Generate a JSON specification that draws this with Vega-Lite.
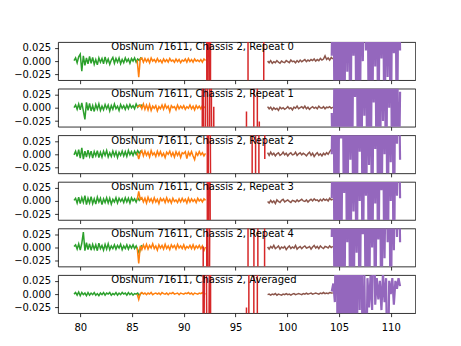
{
"$schema":"https://vega.github.io/schema/vega-lite/v6.json",
"autosize":{"type":"pad"},
"padding":{"left":13.1,"top":41.1,"right":0,"bottom":0},
"background":"white",
"bounds":"flush",
"spacing":7.6,
"config":{"font":"DejaVu Sans","view":{"stroke":"#000","strokeWidth":0.8},"line":{"strokeWidth":1.5},
"axis":{"labelFont":"DejaVu Sans","labelFontSize":10,"labelColor":"#000","tickColor":"#000","tickSize":3.5,"tickWidth":0.8,"domain":false,"grid":false,"labelPadding":4,"title":null,"labelOverlap":false},
"axisX":{"labelPadding":6}},
"datasets":{
"g0":[{"x":79.4,"y":0.001},{"x":79.55,"y":0.006},{"x":79.7,"y":-0.003},{"x":79.85,"y":0.008},{"x":80,"y":0.013},{"x":80.15,"y":-0.019},{"x":80.3,"y":0.01},{"x":80.45,"y":-0.008},{"x":80.6,"y":0.006},{"x":80.75,"y":-0.005},{"x":80.9,"y":0.009},{"x":81.05,"y":-0.004},{"x":81.2,"y":0.007},{"x":81.35,"y":-0.006},{"x":81.5,"y":0.003},{"x":81.65,"y":-0.007},{"x":81.8,"y":0.006},{"x":81.95,"y":-0.002},{"x":82.1,"y":0.005},{"x":82.25,"y":-0.005},{"x":82.4,"y":0.008},{"x":82.55,"y":-0.003},{"x":82.7,"y":0.004},{"x":82.85,"y":-0.006},{"x":83,"y":0.002},{"x":83.15,"y":0.007},{"x":83.3,"y":-0.004},{"x":83.45,"y":0.005},{"x":83.6,"y":-0.002},{"x":83.75,"y":0.006},{"x":83.9,"y":-0.005},{"x":84.05,"y":0.003},{"x":84.2,"y":-0.003},{"x":84.35,"y":0.006},{"x":84.5,"y":-0.001},{"x":84.65,"y":0.004},{"x":84.8,"y":-0.004},{"x":84.95,"y":0.005},{"x":85.1,"y":0},{"x":85.25,"y":0.006},{"x":85.4,"y":-0.002},{"x":85.55,"y":0.004},{"x":85.7,"y":0.001},{"x":85.85,"y":0.006},{"x":86,"y":0.003}],
"g1":[{"x":79.4,"y":0},{"x":79.55,"y":0.005},{"x":79.7,"y":-0.003},{"x":79.85,"y":0.007},{"x":80,"y":-0.004},{"x":80.15,"y":0.009},{"x":80.3,"y":-0.006},{"x":80.45,"y":-0.022},{"x":80.6,"y":0.01},{"x":80.75,"y":-0.005},{"x":80.9,"y":0.008},{"x":81.05,"y":-0.006},{"x":81.2,"y":0.004},{"x":81.35,"y":-0.007},{"x":81.5,"y":0.006},{"x":81.65,"y":-0.003},{"x":81.8,"y":0.007},{"x":81.95,"y":-0.005},{"x":82.1,"y":0.003},{"x":82.25,"y":-0.004},{"x":82.4,"y":0.006},{"x":82.55,"y":-0.002},{"x":82.7,"y":0.005},{"x":82.85,"y":-0.006},{"x":83,"y":0.004},{"x":83.15,"y":-0.003},{"x":83.3,"y":0.007},{"x":83.45,"y":-0.002},{"x":83.6,"y":0.003},{"x":83.75,"y":-0.005},{"x":83.9,"y":0.006},{"x":84.05,"y":-0.001},{"x":84.2,"y":0.004},{"x":84.35,"y":-0.003},{"x":84.5,"y":0.005},{"x":84.65,"y":-0.002},{"x":84.8,"y":0.006},{"x":84.95,"y":0},{"x":85.1,"y":0.004},{"x":85.25,"y":-0.002},{"x":85.4,"y":0.007},{"x":85.55,"y":0.001},{"x":85.7,"y":0.005},{"x":85.85,"y":0.002},{"x":86,"y":0.006}],
"g2":[{"x":79.4,"y":-0.001},{"x":79.55,"y":0.006},{"x":79.7,"y":-0.004},{"x":79.85,"y":0.009},{"x":80,"y":-0.007},{"x":80.15,"y":0.012},{"x":80.3,"y":-0.009},{"x":80.45,"y":0.006},{"x":80.6,"y":-0.005},{"x":80.75,"y":0.008},{"x":80.9,"y":-0.004},{"x":81.05,"y":0.006},{"x":81.2,"y":-0.007},{"x":81.35,"y":0.005},{"x":81.5,"y":-0.003},{"x":81.65,"y":0.007},{"x":81.8,"y":-0.006},{"x":81.95,"y":0.004},{"x":82.1,"y":-0.005},{"x":82.25,"y":0.006},{"x":82.4,"y":-0.002},{"x":82.55,"y":0.007},{"x":82.7,"y":-0.005},{"x":82.85,"y":0.003},{"x":83,"y":-0.004},{"x":83.15,"y":0.006},{"x":83.3,"y":-0.003},{"x":83.45,"y":0.005},{"x":83.6,"y":-0.006},{"x":83.75,"y":0.004},{"x":83.9,"y":-0.002},{"x":84.05,"y":0.006},{"x":84.2,"y":-0.003},{"x":84.35,"y":0.005},{"x":84.5,"y":-0.004},{"x":84.65,"y":0.007},{"x":84.8,"y":-0.001},{"x":84.95,"y":0.005},{"x":85.1,"y":-0.002},{"x":85.25,"y":0.006},{"x":85.4,"y":0},{"x":85.55,"y":0.007},{"x":85.7,"y":0.002},{"x":85.85,"y":0.006},{"x":86,"y":0.003}],
"g3":[{"x":79.4,"y":0.001},{"x":79.55,"y":0.005},{"x":79.7,"y":-0.004},{"x":79.85,"y":0.007},{"x":80,"y":-0.005},{"x":80.15,"y":0.006},{"x":80.3,"y":-0.003},{"x":80.45,"y":0.01},{"x":80.6,"y":-0.007},{"x":80.75,"y":0.005},{"x":80.9,"y":-0.004},{"x":81.05,"y":0.008},{"x":81.2,"y":-0.005},{"x":81.35,"y":0.004},{"x":81.5,"y":-0.006},{"x":81.65,"y":0.007},{"x":81.8,"y":-0.002},{"x":81.95,"y":0.005},{"x":82.1,"y":-0.007},{"x":82.25,"y":0.004},{"x":82.4,"y":-0.003},{"x":82.55,"y":0.006},{"x":82.7,"y":-0.004},{"x":82.85,"y":0.005},{"x":83,"y":-0.006},{"x":83.15,"y":0.003},{"x":83.3,"y":-0.002},{"x":83.45,"y":0.006},{"x":83.6,"y":-0.004},{"x":83.75,"y":0.005},{"x":83.9,"y":-0.001},{"x":84.05,"y":0.004},{"x":84.2,"y":-0.003},{"x":84.35,"y":0.006},{"x":84.5,"y":-0.002},{"x":84.65,"y":0.005},{"x":84.8,"y":-0.004},{"x":84.95,"y":0.006},{"x":85.1,"y":0},{"x":85.25,"y":0.004},{"x":85.4,"y":-0.002},{"x":85.55,"y":0.006},{"x":85.7,"y":0.001},{"x":85.85,"y":0.005},{"x":86,"y":0.003}],
"g4":[{"x":79.4,"y":0.002},{"x":79.55,"y":0.005},{"x":79.7,"y":-0.003},{"x":79.85,"y":0.007},{"x":80,"y":-0.005},{"x":80.15,"y":0.008},{"x":80.3,"y":0.029},{"x":80.45,"y":-0.006},{"x":80.6,"y":0.009},{"x":80.75,"y":-0.004},{"x":80.9,"y":0.007},{"x":81.05,"y":-0.005},{"x":81.2,"y":0.006},{"x":81.35,"y":-0.003},{"x":81.5,"y":0.005},{"x":81.65,"y":-0.006},{"x":81.8,"y":0.008},{"x":81.95,"y":-0.002},{"x":82.1,"y":0.004},{"x":82.25,"y":-0.005},{"x":82.4,"y":0.006},{"x":82.55,"y":-0.003},{"x":82.7,"y":0.007},{"x":82.85,"y":-0.004},{"x":83,"y":0.003},{"x":83.15,"y":-0.002},{"x":83.3,"y":0.005},{"x":83.45,"y":-0.003},{"x":83.6,"y":0.004},{"x":83.75,"y":-0.001},{"x":83.9,"y":0.006},{"x":84.05,"y":-0.004},{"x":84.2,"y":0.003},{"x":84.35,"y":-0.002},{"x":84.5,"y":0.005},{"x":84.65,"y":-0.003},{"x":84.8,"y":0.004},{"x":84.95,"y":-0.001},{"x":85.1,"y":0.005},{"x":85.25,"y":-0.002},{"x":85.4,"y":0.003},{"x":85.55,"y":-0.004},{"x":85.7,"y":-0.011},{"x":85.85,"y":0.002},{"x":86,"y":0.004}],
"g5":[{"x":79.4,"y":0},{"x":79.55,"y":0.003},{"x":79.7,"y":-0.002},{"x":79.85,"y":0.004},{"x":80,"y":-0.003},{"x":80.15,"y":0.003},{"x":80.3,"y":-0.001},{"x":80.45,"y":0.002},{"x":80.6,"y":-0.003},{"x":80.75,"y":0.003},{"x":80.9,"y":-0.002},{"x":81.05,"y":0.002},{"x":81.2,"y":-0.001},{"x":81.35,"y":0.003},{"x":81.5,"y":-0.002},{"x":81.65,"y":0.001},{"x":81.8,"y":-0.003},{"x":81.95,"y":0.002},{"x":82.1,"y":-0.001},{"x":82.25,"y":0.003},{"x":82.4,"y":-0.002},{"x":82.55,"y":0.002},{"x":82.7,"y":0},{"x":82.85,"y":0.003},{"x":83,"y":-0.002},{"x":83.15,"y":0.001},{"x":83.3,"y":-0.001},{"x":83.45,"y":0.003},{"x":83.6,"y":-0.002},{"x":83.75,"y":0.002},{"x":83.9,"y":-0.001},{"x":84.05,"y":0.003},{"x":84.2,"y":0},{"x":84.35,"y":0.002},{"x":84.5,"y":-0.002},{"x":84.65,"y":0.003},{"x":84.8,"y":-0.001},{"x":84.95,"y":0.002},{"x":85.1,"y":-0.002},{"x":85.25,"y":0.001},{"x":85.4,"y":0},{"x":85.55,"y":0.002},{"x":85.7,"y":-0.003},{"x":85.85,"y":0.001},{"x":86,"y":0.002}],
"o0":[{"x":85.5,"y":0.002},{"x":85.65,"y":-0.03},{"x":85.8,"y":0.004},{"x":85.95,"y":0.006},{"x":86.1,"y":-0.002},{"x":86.25,"y":0.005},{"x":86.4,"y":-0.001},{"x":86.55,"y":0.004},{"x":86.7,"y":-0.003},{"x":86.85,"y":0.006},{"x":87,"y":0},{"x":87.15,"y":0.003},{"x":87.3,"y":-0.002},{"x":87.45,"y":0.005},{"x":87.6,"y":-0.001},{"x":87.75,"y":0.002},{"x":87.9,"y":-0.003},{"x":88.05,"y":0.004},{"x":88.2,"y":-0.001},{"x":88.35,"y":0.003},{"x":88.5,"y":-0.002},{"x":88.65,"y":0.005},{"x":88.8,"y":0},{"x":88.95,"y":0.002},{"x":89.1,"y":-0.002},{"x":89.25,"y":0.004},{"x":89.4,"y":-0.001},{"x":89.55,"y":0.003},{"x":89.7,"y":-0.003},{"x":89.85,"y":0.002},{"x":90,"y":0},{"x":90.15,"y":0.004},{"x":90.3,"y":-0.002},{"x":90.45,"y":0.005},{"x":90.6,"y":-0.001},{"x":90.75,"y":0.003},{"x":90.9,"y":-0.002},{"x":91.05,"y":0.004},{"x":91.2,"y":0},{"x":91.35,"y":0.002},{"x":91.5,"y":-0.001},{"x":91.65,"y":0.003},{"x":91.8,"y":-0.002},{"x":91.95,"y":0.004},{"x":92.1,"y":0.001}],
"o1":[{"x":85.5,"y":0.001},{"x":85.65,"y":0.003},{"x":85.8,"y":0.005},{"x":85.95,"y":-0.002},{"x":86.1,"y":0.007},{"x":86.25,"y":-0.003},{"x":86.4,"y":0.005},{"x":86.55,"y":-0.004},{"x":86.7,"y":0.006},{"x":86.85,"y":-0.005},{"x":87,"y":0.003},{"x":87.15,"y":-0.001},{"x":87.3,"y":0.004},{"x":87.45,"y":-0.006},{"x":87.6,"y":0.002},{"x":87.75,"y":-0.002},{"x":87.9,"y":0.005},{"x":88.05,"y":-0.003},{"x":88.2,"y":0.006},{"x":88.35,"y":-0.001},{"x":88.5,"y":0.003},{"x":88.65,"y":-0.007},{"x":88.8,"y":0.004},{"x":88.95,"y":0},{"x":89.1,"y":0.002},{"x":89.25,"y":-0.004},{"x":89.4,"y":0.005},{"x":89.55,"y":-0.002},{"x":89.7,"y":0.003},{"x":89.85,"y":-0.001},{"x":90,"y":0.004},{"x":90.15,"y":-0.003},{"x":90.3,"y":0.002},{"x":90.45,"y":-0.001},{"x":90.6,"y":0.005},{"x":90.75,"y":-0.002},{"x":90.9,"y":0.003},{"x":91.05,"y":-0.004},{"x":91.2,"y":0.004},{"x":91.35,"y":-0.001},{"x":91.5,"y":0.003},{"x":91.65,"y":-0.002},{"x":91.8,"y":0.004},{"x":91.95,"y":0},{"x":92.1,"y":0.002}],
"o2":[{"x":85.5,"y":0.003},{"x":85.65,"y":-0.009},{"x":85.8,"y":0.002},{"x":85.95,"y":0.007},{"x":86.1,"y":-0.003},{"x":86.25,"y":0.006},{"x":86.4,"y":-0.002},{"x":86.55,"y":0.004},{"x":86.7,"y":-0.005},{"x":86.85,"y":0.007},{"x":87,"y":-0.001},{"x":87.15,"y":0.003},{"x":87.3,"y":-0.004},{"x":87.45,"y":0.006},{"x":87.6,"y":-0.002},{"x":87.75,"y":0.005},{"x":87.9,"y":-0.003},{"x":88.05,"y":0.002},{"x":88.2,"y":-0.006},{"x":88.35,"y":0.004},{"x":88.5,"y":0},{"x":88.65,"y":0.006},{"x":88.8,"y":-0.003},{"x":88.95,"y":0.003},{"x":89.1,"y":-0.005},{"x":89.25,"y":0.005},{"x":89.4,"y":-0.002},{"x":89.55,"y":0.004},{"x":89.7,"y":-0.006},{"x":89.85,"y":0.003},{"x":90,"y":0.001},{"x":90.15,"y":0.005},{"x":90.3,"y":-0.008},{"x":90.45,"y":0.004},{"x":90.6,"y":-0.002},{"x":90.75,"y":0.005},{"x":90.9,"y":-0.003},{"x":91.05,"y":-0.01},{"x":91.2,"y":0.003},{"x":91.35,"y":-0.002},{"x":91.5,"y":0.005},{"x":91.65,"y":-0.001},{"x":91.8,"y":0.003},{"x":91.95,"y":-0.003},{"x":92.1,"y":0.002}],
"o3":[{"x":85.5,"y":0.002},{"x":85.65,"y":0.018},{"x":85.8,"y":0.003},{"x":85.95,"y":0.006},{"x":86.1,"y":-0.002},{"x":86.25,"y":0.005},{"x":86.4,"y":-0.004},{"x":86.55,"y":0.007},{"x":86.7,"y":-0.001},{"x":86.85,"y":0.004},{"x":87,"y":-0.003},{"x":87.15,"y":0.006},{"x":87.3,"y":-0.002},{"x":87.45,"y":0.003},{"x":87.6,"y":-0.005},{"x":87.75,"y":0.005},{"x":87.9,"y":0},{"x":88.05,"y":0.004},{"x":88.2,"y":-0.003},{"x":88.35,"y":0.006},{"x":88.5,"y":-0.002},{"x":88.65,"y":0.003},{"x":88.8,"y":-0.004},{"x":88.95,"y":0.005},{"x":89.1,"y":-0.001},{"x":89.25,"y":0.002},{"x":89.4,"y":-0.003},{"x":89.55,"y":0.004},{"x":89.7,"y":-0.002},{"x":89.85,"y":0.005},{"x":90,"y":-0.001},{"x":90.15,"y":0.003},{"x":90.3,"y":-0.004},{"x":90.45,"y":0.005},{"x":90.6,"y":-0.002},{"x":90.75,"y":0.004},{"x":90.9,"y":-0.001},{"x":91.05,"y":0.003},{"x":91.2,"y":-0.003},{"x":91.35,"y":0.005},{"x":91.5,"y":0},{"x":91.65,"y":0.003},{"x":91.8,"y":-0.002},{"x":91.95,"y":0.004},{"x":92.1,"y":0.001}],
"o4":[{"x":85.5,"y":0},{"x":85.65,"y":-0.03},{"x":85.8,"y":0.003},{"x":85.95,"y":-0.004},{"x":86.1,"y":0.005},{"x":86.25,"y":-0.002},{"x":86.4,"y":0.006},{"x":86.55,"y":-0.003},{"x":86.7,"y":0.004},{"x":86.85,"y":-0.001},{"x":87,"y":0.007},{"x":87.15,"y":-0.002},{"x":87.3,"y":0.003},{"x":87.45,"y":-0.005},{"x":87.6,"y":0.005},{"x":87.75,"y":-0.001},{"x":87.9,"y":0.004},{"x":88.05,"y":-0.003},{"x":88.2,"y":0.006},{"x":88.35,"y":-0.002},{"x":88.5,"y":0.003},{"x":88.65,"y":-0.004},{"x":88.8,"y":0.005},{"x":88.95,"y":0},{"x":89.1,"y":0.004},{"x":89.25,"y":-0.003},{"x":89.4,"y":0.006},{"x":89.55,"y":-0.001},{"x":89.7,"y":0.003},{"x":89.85,"y":-0.002},{"x":90,"y":0.005},{"x":90.15,"y":-0.003},{"x":90.3,"y":0.002},{"x":90.45,"y":-0.001},{"x":90.6,"y":0.004},{"x":90.75,"y":-0.002},{"x":90.9,"y":0.005},{"x":91.05,"y":-0.003},{"x":91.2,"y":0.003},{"x":91.35,"y":-0.001},{"x":91.5,"y":0.004},{"x":91.65,"y":-0.002},{"x":91.8,"y":0.003},{"x":91.95,"y":-0.006},{"x":92.1,"y":0.001}],
"o5":[{"x":85.5,"y":0},{"x":85.65,"y":-0.01},{"x":85.8,"y":0.001},{"x":85.95,"y":0.003},{"x":86.1,"y":0},{"x":86.25,"y":0.002},{"x":86.4,"y":-0.001},{"x":86.55,"y":0.002},{"x":86.7,"y":0},{"x":86.85,"y":0.003},{"x":87,"y":-0.001},{"x":87.15,"y":0.001},{"x":87.3,"y":0.002},{"x":87.45,"y":0},{"x":87.6,"y":0.002},{"x":87.75,"y":-0.001},{"x":87.9,"y":0.003},{"x":88.05,"y":0.001},{"x":88.2,"y":0},{"x":88.35,"y":0.002},{"x":88.5,"y":-0.001},{"x":88.65,"y":0.002},{"x":88.8,"y":0.001},{"x":88.95,"y":0.003},{"x":89.1,"y":0},{"x":89.25,"y":0.001},{"x":89.4,"y":0.002},{"x":89.55,"y":-0.001},{"x":89.7,"y":0.002},{"x":89.85,"y":0.001},{"x":90,"y":0},{"x":90.15,"y":0.002},{"x":90.3,"y":0.001},{"x":90.45,"y":0.003},{"x":90.6,"y":0},{"x":90.75,"y":0.002},{"x":90.9,"y":-0.001},{"x":91.05,"y":0.002},{"x":91.2,"y":0.001},{"x":91.35,"y":0},{"x":91.5,"y":0.002},{"x":91.65,"y":0.001},{"x":91.8,"y":0.003},{"x":91.95,"y":0},{"x":92.1,"y":0.001}],
"r0":[{"x":92.2,"y":0.5},{"x":92.25,"y":-0.5},{"x":92.35,"y":0.5},{"x":92.55,"y":-0.5},{"x":92.62,"y":0.5},{"x":96.2,"y":0.5},{"x":96.22,"y":-0.5},{"x":97.72,"y":-0.5},{"x":97.74,"y":0.5},{"x":98,"y":0.5}],
"r1":[{"x":91.78,"y":-0.5},{"x":91.8,"y":0.5},{"x":92,"y":-0.5},{"x":92.2,"y":0.5},{"x":92.4,"y":-0.5},{"x":92.6,"y":0.5},{"x":92.75,"y":-0.5},{"x":92.9,"y":0.002},{"x":92.92,"y":-0.5},{"x":96.04,"y":-0.5},{"x":96.06,"y":-0.007},{"x":96.08,"y":-0.5},{"x":96.76,"y":-0.5},{"x":96.78,"y":0.5},{"x":97.1,"y":0.5},{"x":97.12,"y":-0.5},{"x":97.29,"y":-0.5},{"x":97.3,"y":-0.026},{"x":97.32,"y":-0.5},{"x":98,"y":-0.5}],
"r2":[{"x":92.25,"y":0.5},{"x":92.3,"y":-0.5},{"x":92.45,"y":0.5},{"x":92.7,"y":-0.5},{"x":96.6,"y":-0.5},{"x":96.62,"y":0.5},{"x":96.93,"y":0.5},{"x":96.95,"y":-0.5},{"x":97.25,"y":-0.5},{"x":97.27,"y":0.5},{"x":97.8,"y":0.5},{"x":97.83,"y":-0.009},{"x":97.86,"y":0.5},{"x":98,"y":0.5}],
"r3":[{"x":92.25,"y":0.5},{"x":92.3,"y":-0.5},{"x":92.5,"y":0.5},{"x":92.6,"y":-0.5},{"x":98,"y":-0.5}],
"r4":[{"x":91.86,"y":-0.5},{"x":91.88,"y":0.002},{"x":91.9,"y":-0.5},{"x":92.2,"y":-0.5},{"x":92.25,"y":0.5},{"x":92.4,"y":-0.5},{"x":92.6,"y":0.5},{"x":96.2,"y":0.5},{"x":96.22,"y":-0.5},{"x":96.77,"y":-0.5},{"x":96.79,"y":0.5},{"x":97.15,"y":0.5},{"x":97.17,"y":-0.5},{"x":97.8,"y":-0.5},{"x":97.82,"y":0.5},{"x":98,"y":0.5}],
"r5":[{"x":91.86,"y":0.5},{"x":91.88,"y":-0.5},{"x":92.08,"y":0.5},{"x":92.33,"y":-0.5},{"x":92.58,"y":0.5},{"x":92.6,"y":-0.5},{"x":96.04,"y":-0.5},{"x":96.06,"y":-0.025},{"x":96.08,"y":-0.5},{"x":96.28,"y":-0.5},{"x":96.3,"y":0.5},{"x":96.76,"y":0.5},{"x":96.78,"y":-0.5},{"x":97.1,"y":-0.5},{"x":97.12,"y":0.5},{"x":98,"y":0.5}],
"b0":[{"x":98.1,"y":0},{"x":98.25,"y":-0.003},{"x":98.4,"y":0.001},{"x":98.55,"y":-0.004},{"x":98.7,"y":-0.001},{"x":98.85,"y":-0.003},{"x":99,"y":0.001},{"x":99.15,"y":-0.002},{"x":99.3,"y":-0.004},{"x":99.45,"y":0},{"x":99.6,"y":-0.002},{"x":99.75,"y":-0.003},{"x":99.9,"y":0.001},{"x":100.05,"y":-0.001},{"x":100.2,"y":-0.003},{"x":100.35,"y":0.002},{"x":100.5,"y":-0.001},{"x":100.65,"y":0},{"x":100.8,"y":-0.003},{"x":100.95,"y":0.001},{"x":101.1,"y":-0.002},{"x":101.25,"y":0.002},{"x":101.4,"y":-0.001},{"x":101.55,"y":0.001},{"x":101.7,"y":0.003},{"x":101.85,"y":-0.001},{"x":102,"y":0.002},{"x":102.15,"y":0},{"x":102.3,"y":0.003},{"x":102.45,"y":0.001},{"x":102.6,"y":0.004},{"x":102.75,"y":0},{"x":102.9,"y":0.003},{"x":103.05,"y":0.001},{"x":103.2,"y":0.005},{"x":103.35,"y":0.002},{"x":103.5,"y":0.004},{"x":103.65,"y":0.01},{"x":103.8,"y":0.003},{"x":103.95,"y":0.006},{"x":104.1,"y":0.002},{"x":104.25,"y":0.007},{"x":104.4,"y":0.004}],
"b1":[{"x":98.1,"y":0.002},{"x":98.25,"y":-0.002},{"x":98.4,"y":0.001},{"x":98.55,"y":-0.004},{"x":98.7,"y":0},{"x":98.85,"y":-0.003},{"x":99,"y":-0.001},{"x":99.15,"y":-0.005},{"x":99.3,"y":0.001},{"x":99.45,"y":-0.002},{"x":99.6,"y":0},{"x":99.75,"y":-0.003},{"x":99.9,"y":-0.001},{"x":100.05,"y":0.002},{"x":100.2,"y":-0.002},{"x":100.35,"y":0},{"x":100.5,"y":-0.004},{"x":100.65,"y":0.001},{"x":100.8,"y":-0.001},{"x":100.95,"y":0.003},{"x":101.1,"y":-0.002},{"x":101.25,"y":0},{"x":101.4,"y":0.002},{"x":101.55,"y":-0.001},{"x":101.7,"y":0.003},{"x":101.85,"y":-0.002},{"x":102,"y":0.001},{"x":102.15,"y":-0.003},{"x":102.3,"y":0},{"x":102.45,"y":0.002},{"x":102.6,"y":-0.001},{"x":102.75,"y":0.001},{"x":102.9,"y":-0.002},{"x":103.05,"y":0.003},{"x":103.2,"y":0},{"x":103.35,"y":-0.001},{"x":103.5,"y":0.002},{"x":103.65,"y":-0.002},{"x":103.8,"y":0.001},{"x":103.95,"y":0},{"x":104.1,"y":0.002},{"x":104.25,"y":-0.001},{"x":104.4,"y":0.001}],
"b2":[{"x":98.1,"y":0.003},{"x":98.25,"y":-0.002},{"x":98.4,"y":0.004},{"x":98.55,"y":-0.001},{"x":98.7,"y":0.002},{"x":98.85,"y":-0.003},{"x":99,"y":0.001},{"x":99.15,"y":0.003},{"x":99.3,"y":-0.002},{"x":99.45,"y":0},{"x":99.6,"y":0.004},{"x":99.75,"y":-0.001},{"x":99.9,"y":0.002},{"x":100.05,"y":-0.003},{"x":100.2,"y":0.001},{"x":100.35,"y":0.003},{"x":100.5,"y":-0.001},{"x":100.65,"y":0},{"x":100.8,"y":0.004},{"x":100.95,"y":-0.002},{"x":101.1,"y":0.001},{"x":101.25,"y":0.003},{"x":101.4,"y":-0.001},{"x":101.55,"y":0.002},{"x":101.7,"y":0},{"x":101.85,"y":-0.003},{"x":102,"y":0.001},{"x":102.15,"y":0.004},{"x":102.3,"y":-0.002},{"x":102.45,"y":0.002},{"x":102.6,"y":-0.004},{"x":102.75,"y":0},{"x":102.9,"y":0.003},{"x":103.05,"y":-0.002},{"x":103.2,"y":0.001},{"x":103.35,"y":-0.003},{"x":103.5,"y":0.002},{"x":103.65,"y":-0.001},{"x":103.8,"y":0.003},{"x":103.95,"y":0},{"x":104.1,"y":0.005},{"x":104.25,"y":0.009},{"x":104.4,"y":0.006}],
"b3":[{"x":98.1,"y":-0.001},{"x":98.25,"y":-0.004},{"x":98.4,"y":0.001},{"x":98.55,"y":-0.003},{"x":98.7,"y":0},{"x":98.85,"y":-0.005},{"x":99,"y":0.002},{"x":99.15,"y":-0.001},{"x":99.3,"y":-0.003},{"x":99.45,"y":0.001},{"x":99.6,"y":0.003},{"x":99.75,"y":-0.002},{"x":99.9,"y":0},{"x":100.05,"y":0.002},{"x":100.2,"y":-0.001},{"x":100.35,"y":-0.003},{"x":100.5,"y":0.001},{"x":100.65,"y":0},{"x":100.8,"y":-0.002},{"x":100.95,"y":0.002},{"x":101.1,"y":-0.001},{"x":101.25,"y":0.001},{"x":101.4,"y":0.003},{"x":101.55,"y":0},{"x":101.7,"y":-0.001},{"x":101.85,"y":0.002},{"x":102,"y":-0.002},{"x":102.15,"y":0.001},{"x":102.3,"y":0.003},{"x":102.45,"y":0},{"x":102.6,"y":0.004},{"x":102.75,"y":0.001},{"x":102.9,"y":0.002},{"x":103.05,"y":-0.001},{"x":103.2,"y":0.003},{"x":103.35,"y":0},{"x":103.5,"y":0.004},{"x":103.65,"y":0.001},{"x":103.8,"y":0.003},{"x":103.95,"y":0},{"x":104.1,"y":0.005},{"x":104.25,"y":0.002},{"x":104.4,"y":0.003}],
"b4":[{"x":98.1,"y":0.001},{"x":98.25,"y":-0.003},{"x":98.4,"y":0.002},{"x":98.55,"y":-0.001},{"x":98.7,"y":0.004},{"x":98.85,"y":-0.002},{"x":99,"y":0},{"x":99.15,"y":0.003},{"x":99.3,"y":-0.003},{"x":99.45,"y":0.001},{"x":99.6,"y":-0.001},{"x":99.75,"y":0.002},{"x":99.9,"y":-0.004},{"x":100.05,"y":0},{"x":100.2,"y":0.003},{"x":100.35,"y":-0.002},{"x":100.5,"y":0.001},{"x":100.65,"y":-0.001},{"x":100.8,"y":0.004},{"x":100.95,"y":-0.003},{"x":101.1,"y":0},{"x":101.25,"y":0.002},{"x":101.4,"y":-0.002},{"x":101.55,"y":0.001},{"x":101.7,"y":0.003},{"x":101.85,"y":-0.001},{"x":102,"y":0},{"x":102.15,"y":0.002},{"x":102.3,"y":-0.003},{"x":102.45,"y":0.001},{"x":102.6,"y":0.004},{"x":102.75,"y":-0.001},{"x":102.9,"y":0.002},{"x":103.05,"y":-0.002},{"x":103.2,"y":0.003},{"x":103.35,"y":0},{"x":103.5,"y":-0.002},{"x":103.65,"y":0.002},{"x":103.8,"y":0.001},{"x":103.95,"y":-0.001},{"x":104.1,"y":0.003},{"x":104.25,"y":0},{"x":104.4,"y":0.002}],
"b5":[{"x":98.1,"y":-0.001},{"x":98.25,"y":0},{"x":98.4,"y":-0.002},{"x":98.55,"y":0},{"x":98.7,"y":-0.001},{"x":98.85,"y":0.001},{"x":99,"y":-0.002},{"x":99.15,"y":0},{"x":99.3,"y":-0.001},{"x":99.45,"y":-0.002},{"x":99.6,"y":0},{"x":99.75,"y":-0.001},{"x":99.9,"y":0.001},{"x":100.05,"y":-0.001},{"x":100.2,"y":0},{"x":100.35,"y":-0.002},{"x":100.5,"y":0},{"x":100.65,"y":0.001},{"x":100.8,"y":-0.001},{"x":100.95,"y":0},{"x":101.1,"y":0.001},{"x":101.25,"y":0},{"x":101.4,"y":-0.001},{"x":101.55,"y":0.001},{"x":101.7,"y":0},{"x":101.85,"y":0.002},{"x":102,"y":0},{"x":102.15,"y":0.001},{"x":102.3,"y":0.002},{"x":102.45,"y":0},{"x":102.6,"y":0.001},{"x":102.75,"y":0.002},{"x":102.9,"y":0.001},{"x":103.05,"y":0},{"x":103.2,"y":0.002},{"x":103.35,"y":0.001},{"x":103.5,"y":0.003},{"x":103.65,"y":0.001},{"x":103.8,"y":0.002},{"x":103.95,"y":0.001},{"x":104.1,"y":0.003},{"x":104.25,"y":0.002},{"x":104.4,"y":0.002}],
"p0":[{"x":104.3,"y":0.01},{"x":104.45,"y":0.2},{"x":104.6,"y":-0.2},{"x":104.75,"y":0.2},{"x":104.9,"y":-0.2},{"x":105.05,"y":0.2},{"x":105.2,"y":-0.2},{"x":105.35,"y":0.2},{"x":105.5,"y":-0.2},{"x":105.65,"y":0.2},{"x":105.8,"y":-0.02},{"x":105.95,"y":0.2},{"x":106.1,"y":-0.2},{"x":106.25,"y":0.2},{"x":106.4,"y":0.01},{"x":106.55,"y":0.2},{"x":106.7,"y":-0.2},{"x":106.85,"y":0.2},{"x":107,"y":-0.2},{"x":107.15,"y":0.2},{"x":107.3,"y":0},{"x":107.45,"y":0.2},{"x":107.6,"y":0.02},{"x":107.75,"y":0.2},{"x":107.9,"y":-0.2},{"x":108.05,"y":0.2},{"x":108.2,"y":-0.2},{"x":108.35,"y":0.2},{"x":108.5,"y":-0.01},{"x":108.65,"y":0.2},{"x":108.8,"y":-0.2},{"x":108.95,"y":0.2},{"x":109.1,"y":0.005},{"x":109.25,"y":0.2},{"x":109.4,"y":-0.2},{"x":109.55,"y":0.2},{"x":109.7,"y":-0.03},{"x":109.85,"y":0.2},{"x":110,"y":-0.2},{"x":110.15,"y":0.2},{"x":110.3,"y":0.015},{"x":110.45,"y":0.2},{"x":110.6,"y":-0.2},{"x":110.75,"y":0.2},{"x":110.9,"y":0.02}],
"p1":[{"x":104.3,"y":-0.01},{"x":104.45,"y":-0.2},{"x":104.6,"y":0.2},{"x":104.75,"y":-0.2},{"x":104.9,"y":0.2},{"x":105.05,"y":-0.2},{"x":105.2,"y":0.2},{"x":105.35,"y":-0.2},{"x":105.5,"y":0.2},{"x":105.65,"y":-0.2},{"x":105.8,"y":0.2},{"x":105.95,"y":-0.2},{"x":106.1,"y":0.2},{"x":106.25,"y":-0.2},{"x":106.4,"y":0.2},{"x":106.55,"y":0.02},{"x":106.7,"y":0.2},{"x":106.85,"y":-0.2},{"x":107,"y":0.2},{"x":107.15,"y":-0.2},{"x":107.3,"y":0.2},{"x":107.45,"y":-0.015},{"x":107.6,"y":0.2},{"x":107.75,"y":-0.2},{"x":107.9,"y":0.2},{"x":108.05,"y":-0.2},{"x":108.2,"y":0.2},{"x":108.35,"y":0.01},{"x":108.5,"y":0.2},{"x":108.65,"y":-0.2},{"x":108.8,"y":0.2},{"x":108.95,"y":-0.2},{"x":109.1,"y":0.2},{"x":109.25,"y":-0.025},{"x":109.4,"y":0.2},{"x":109.55,"y":-0.2},{"x":109.7,"y":0.2},{"x":109.85,"y":0},{"x":110,"y":0.2},{"x":110.15,"y":-0.2},{"x":110.3,"y":0.2},{"x":110.45,"y":-0.2},{"x":110.6,"y":0.2},{"x":110.75,"y":-0.2},{"x":110.9,"y":0.03}],
"p2":[{"x":104.3,"y":0},{"x":104.45,"y":0.2},{"x":104.6,"y":-0.2},{"x":104.75,"y":0.2},{"x":104.9,"y":-0.2},{"x":105.05,"y":0.2},{"x":105.2,"y":0.03},{"x":105.35,"y":0.2},{"x":105.5,"y":-0.2},{"x":105.65,"y":0.2},{"x":105.8,"y":-0.2},{"x":105.95,"y":0.2},{"x":106.1,"y":-0.01},{"x":106.25,"y":0.2},{"x":106.4,"y":-0.2},{"x":106.55,"y":0.2},{"x":106.7,"y":-0.2},{"x":106.85,"y":0.2},{"x":107,"y":0.005},{"x":107.15,"y":0.2},{"x":107.3,"y":-0.2},{"x":107.45,"y":0.2},{"x":107.6,"y":-0.2},{"x":107.75,"y":0.2},{"x":107.9,"y":-0.02},{"x":108.05,"y":0.2},{"x":108.2,"y":-0.2},{"x":108.35,"y":0.2},{"x":108.5,"y":0.01},{"x":108.65,"y":0.2},{"x":108.8,"y":-0.2},{"x":108.95,"y":0.2},{"x":109.1,"y":-0.2},{"x":109.25,"y":0.2},{"x":109.4,"y":0},{"x":109.55,"y":0.2},{"x":109.7,"y":-0.2},{"x":109.85,"y":0.2},{"x":110,"y":-0.015},{"x":110.15,"y":0.2},{"x":110.3,"y":-0.2},{"x":110.45,"y":0.2},{"x":110.6,"y":0.02},{"x":110.75,"y":0.2},{"x":110.9,"y":-0.01}],
"p3":[{"x":104.3,"y":0.005},{"x":104.45,"y":0.2},{"x":104.6,"y":-0.2},{"x":104.75,"y":0.2},{"x":104.9,"y":-0.2},{"x":105.05,"y":0.2},{"x":105.2,"y":-0.2},{"x":105.35,"y":0.2},{"x":105.5,"y":0.015},{"x":105.65,"y":0.2},{"x":105.8,"y":-0.2},{"x":105.95,"y":0.2},{"x":106.1,"y":-0.2},{"x":106.25,"y":0.2},{"x":106.4,"y":-0.02},{"x":106.55,"y":0.2},{"x":106.7,"y":-0.2},{"x":106.85,"y":0.2},{"x":107,"y":0},{"x":107.15,"y":0.2},{"x":107.3,"y":-0.2},{"x":107.45,"y":0.2},{"x":107.6,"y":0.01},{"x":107.75,"y":0.2},{"x":107.9,"y":-0.2},{"x":108.05,"y":0.2},{"x":108.2,"y":-0.2},{"x":108.35,"y":0.2},{"x":108.5,"y":-0.005},{"x":108.65,"y":0.2},{"x":108.8,"y":-0.2},{"x":108.95,"y":0.2},{"x":109.1,"y":0.02},{"x":109.25,"y":0.2},{"x":109.4,"y":-0.2},{"x":109.55,"y":0.2},{"x":109.7,"y":-0.2},{"x":109.85,"y":0.2},{"x":110,"y":0},{"x":110.15,"y":0.2},{"x":110.3,"y":-0.2},{"x":110.45,"y":0.2},{"x":110.6,"y":0.01},{"x":110.75,"y":0.2},{"x":110.9,"y":0.005}],
"p4":[{"x":104.3,"y":0.02},{"x":104.45,"y":0.2},{"x":104.6,"y":-0.2},{"x":104.75,"y":0.2},{"x":104.9,"y":-0.2},{"x":105.05,"y":0.2},{"x":105.2,"y":-0.2},{"x":105.35,"y":0.2},{"x":105.5,"y":-0.2},{"x":105.65,"y":0.2},{"x":105.8,"y":0.01},{"x":105.95,"y":0.2},{"x":106.1,"y":-0.2},{"x":106.25,"y":0.2},{"x":106.4,"y":-0.2},{"x":106.55,"y":0.2},{"x":106.7,"y":-0.01},{"x":106.85,"y":0.2},{"x":107,"y":-0.2},{"x":107.15,"y":0.2},{"x":107.3,"y":0.025},{"x":107.45,"y":0.2},{"x":107.6,"y":-0.2},{"x":107.75,"y":0.2},{"x":107.9,"y":-0.2},{"x":108.05,"y":0.2},{"x":108.2,"y":0},{"x":108.35,"y":0.2},{"x":108.5,"y":-0.2},{"x":108.65,"y":0.2},{"x":108.8,"y":0.015},{"x":108.95,"y":0.2},{"x":109.1,"y":-0.2},{"x":109.25,"y":0.2},{"x":109.4,"y":-0.02},{"x":109.55,"y":0.2},{"x":109.7,"y":0.01},{"x":109.85,"y":0.2},{"x":110,"y":-0.2},{"x":110.15,"y":0.2},{"x":110.3,"y":-0.005},{"x":110.45,"y":0.2},{"x":110.6,"y":0.02},{"x":110.75,"y":0.2},{"x":110.9,"y":0.01}],
"p5":[{"x":104.3,"y":0.005},{"x":104.45,"y":0.02},{"x":104.6,"y":-0.015},{"x":104.75,"y":0.2},{"x":104.9,"y":-0.2},{"x":105.05,"y":0.2},{"x":105.2,"y":-0.2},{"x":105.35,"y":0.2},{"x":105.5,"y":-0.2},{"x":105.65,"y":0.2},{"x":105.8,"y":-0.2},{"x":105.95,"y":0.2},{"x":106.1,"y":-0.2},{"x":106.25,"y":0.2},{"x":106.4,"y":-0.2},{"x":106.55,"y":0.2},{"x":106.7,"y":-0.2},{"x":106.85,"y":0.2},{"x":107,"y":-0.03},{"x":107.15,"y":0.2},{"x":107.3,"y":-0.2},{"x":107.45,"y":0.04},{"x":107.6,"y":-0.2},{"x":107.75,"y":0.03},{"x":107.9,"y":-0.025},{"x":108.05,"y":0.035},{"x":108.2,"y":-0.03},{"x":108.35,"y":0.2},{"x":108.5,"y":-0.02},{"x":108.65,"y":0.03},{"x":108.8,"y":-0.01},{"x":108.95,"y":0.025},{"x":109.1,"y":-0.03},{"x":109.25,"y":0.04},{"x":109.4,"y":-0.015},{"x":109.55,"y":0.03},{"x":109.7,"y":-0.2},{"x":109.85,"y":0.025},{"x":110,"y":0},{"x":110.15,"y":0.03},{"x":110.3,"y":-0.02},{"x":110.45,"y":0.025},{"x":110.6,"y":0.01},{"x":110.75,"y":0.03},{"x":110.9,"y":0.015}]
},
"vconcat":[
{"width":357.3,"height":38.06,"layer":[
{"encoding":{"x":{"field":"x","type":"quantitative","scale":{"domain":[77.86,112.38],"nice":false,"zero":false},"axis":{"values":[80,85,90,95,100,105,110],"labels":false}},"y":{"field":"y","type":"quantitative","scale":{"domain":[-0.0358,0.0358],"nice":false},"axis":{"values":[-0.025,0,0.025],"format":".3f"}}},
"layer":[
{"data":{"name":"g0"},"mark":{"type":"line","clip":true,"color":"#2ca02c"}},
{"data":{"name":"o0"},"mark":{"type":"line","clip":true,"color":"#ff7f0e"}},
{"data":{"name":"r0"},"mark":{"type":"line","clip":true,"color":"#d62728"}},
{"data":{"name":"b0"},"mark":{"type":"line","clip":true,"color":"#8c564b"}},
{"data":{"name":"p0"},"mark":{"type":"line","clip":true,"color":"#9467bd","strokeWidth":2.2}}]},
{"data":{"values":[{"t":"ObsNum 71611, Chassis 2, Repeat 0"}]},"mark":{"type":"text","align":"left","baseline":"alphabetic","fontSize":10,"font":"DejaVu Sans","color":"#000"},"encoding":{"x":{"datum":83,"type":"quantitative","scale":{"domain":[77.86,112.38],"nice":false,"zero":false},"axis":{"values":[80,85,90,95,100,105,110],"labels":false}},"y":{"datum":0.02,"type":"quantitative","scale":{"domain":[-0.0358,0.0358],"nice":false},"axis":{"values":[-0.025,0,0.025],"format":".3f"}},"text":{"field":"t"}}}
]},
{"width":357.3,"height":38.06,"layer":[
{"encoding":{"x":{"field":"x","type":"quantitative","scale":{"domain":[77.86,112.38],"nice":false,"zero":false},"axis":{"values":[80,85,90,95,100,105,110],"labels":false}},"y":{"field":"y","type":"quantitative","scale":{"domain":[-0.0358,0.0358],"nice":false},"axis":{"values":[-0.025,0,0.025],"format":".3f"}}},
"layer":[
{"data":{"name":"g1"},"mark":{"type":"line","clip":true,"color":"#2ca02c"}},
{"data":{"name":"o1"},"mark":{"type":"line","clip":true,"color":"#ff7f0e"}},
{"data":{"name":"r1"},"mark":{"type":"line","clip":true,"color":"#d62728"}},
{"data":{"name":"b1"},"mark":{"type":"line","clip":true,"color":"#8c564b"}},
{"data":{"name":"p1"},"mark":{"type":"line","clip":true,"color":"#9467bd","strokeWidth":2.2}}]},
{"data":{"values":[{"t":"ObsNum 71611, Chassis 2, Repeat 1"}]},"mark":{"type":"text","align":"left","baseline":"alphabetic","fontSize":10,"font":"DejaVu Sans","color":"#000"},"encoding":{"x":{"datum":83,"type":"quantitative","scale":{"domain":[77.86,112.38],"nice":false,"zero":false},"axis":{"values":[80,85,90,95,100,105,110],"labels":false}},"y":{"datum":0.02,"type":"quantitative","scale":{"domain":[-0.0358,0.0358],"nice":false},"axis":{"values":[-0.025,0,0.025],"format":".3f"}},"text":{"field":"t"}}}
]},
{"width":357.3,"height":38.06,"layer":[
{"encoding":{"x":{"field":"x","type":"quantitative","scale":{"domain":[77.86,112.38],"nice":false,"zero":false},"axis":{"values":[80,85,90,95,100,105,110],"labels":false}},"y":{"field":"y","type":"quantitative","scale":{"domain":[-0.0358,0.0358],"nice":false},"axis":{"values":[-0.025,0,0.025],"format":".3f"}}},
"layer":[
{"data":{"name":"g2"},"mark":{"type":"line","clip":true,"color":"#2ca02c"}},
{"data":{"name":"o2"},"mark":{"type":"line","clip":true,"color":"#ff7f0e"}},
{"data":{"name":"r2"},"mark":{"type":"line","clip":true,"color":"#d62728"}},
{"data":{"name":"b2"},"mark":{"type":"line","clip":true,"color":"#8c564b"}},
{"data":{"name":"p2"},"mark":{"type":"line","clip":true,"color":"#9467bd","strokeWidth":2.2}}]},
{"data":{"values":[{"t":"ObsNum 71611, Chassis 2, Repeat 2"}]},"mark":{"type":"text","align":"left","baseline":"alphabetic","fontSize":10,"font":"DejaVu Sans","color":"#000"},"encoding":{"x":{"datum":83,"type":"quantitative","scale":{"domain":[77.86,112.38],"nice":false,"zero":false},"axis":{"values":[80,85,90,95,100,105,110],"labels":false}},"y":{"datum":0.02,"type":"quantitative","scale":{"domain":[-0.0358,0.0358],"nice":false},"axis":{"values":[-0.025,0,0.025],"format":".3f"}},"text":{"field":"t"}}}
]},
{"width":357.3,"height":38.06,"layer":[
{"encoding":{"x":{"field":"x","type":"quantitative","scale":{"domain":[77.86,112.38],"nice":false,"zero":false},"axis":{"values":[80,85,90,95,100,105,110],"labels":false}},"y":{"field":"y","type":"quantitative","scale":{"domain":[-0.0358,0.0358],"nice":false},"axis":{"values":[-0.025,0,0.025],"format":".3f"}}},
"layer":[
{"data":{"name":"g3"},"mark":{"type":"line","clip":true,"color":"#2ca02c"}},
{"data":{"name":"o3"},"mark":{"type":"line","clip":true,"color":"#ff7f0e"}},
{"data":{"name":"r3"},"mark":{"type":"line","clip":true,"color":"#d62728"}},
{"data":{"name":"b3"},"mark":{"type":"line","clip":true,"color":"#8c564b"}},
{"data":{"name":"p3"},"mark":{"type":"line","clip":true,"color":"#9467bd","strokeWidth":2.2}}]},
{"data":{"values":[{"t":"ObsNum 71611, Chassis 2, Repeat 3"}]},"mark":{"type":"text","align":"left","baseline":"alphabetic","fontSize":10,"font":"DejaVu Sans","color":"#000"},"encoding":{"x":{"datum":83,"type":"quantitative","scale":{"domain":[77.86,112.38],"nice":false,"zero":false},"axis":{"values":[80,85,90,95,100,105,110],"labels":false}},"y":{"datum":0.02,"type":"quantitative","scale":{"domain":[-0.0358,0.0358],"nice":false},"axis":{"values":[-0.025,0,0.025],"format":".3f"}},"text":{"field":"t"}}}
]},
{"width":357.3,"height":38.06,"layer":[
{"encoding":{"x":{"field":"x","type":"quantitative","scale":{"domain":[77.86,112.38],"nice":false,"zero":false},"axis":{"values":[80,85,90,95,100,105,110],"labels":false}},"y":{"field":"y","type":"quantitative","scale":{"domain":[-0.0358,0.0358],"nice":false},"axis":{"values":[-0.025,0,0.025],"format":".3f"}}},
"layer":[
{"data":{"name":"g4"},"mark":{"type":"line","clip":true,"color":"#2ca02c"}},
{"data":{"name":"o4"},"mark":{"type":"line","clip":true,"color":"#ff7f0e"}},
{"data":{"name":"r4"},"mark":{"type":"line","clip":true,"color":"#d62728"}},
{"data":{"name":"b4"},"mark":{"type":"line","clip":true,"color":"#8c564b"}},
{"data":{"name":"p4"},"mark":{"type":"line","clip":true,"color":"#9467bd","strokeWidth":2.2}}]},
{"data":{"values":[{"t":"ObsNum 71611, Chassis 2, Repeat 4"}]},"mark":{"type":"text","align":"left","baseline":"alphabetic","fontSize":10,"font":"DejaVu Sans","color":"#000"},"encoding":{"x":{"datum":83,"type":"quantitative","scale":{"domain":[77.86,112.38],"nice":false,"zero":false},"axis":{"values":[80,85,90,95,100,105,110],"labels":false}},"y":{"datum":0.02,"type":"quantitative","scale":{"domain":[-0.0358,0.0358],"nice":false},"axis":{"values":[-0.025,0,0.025],"format":".3f"}},"text":{"field":"t"}}}
]},
{"width":357.3,"height":38.06,"layer":[
{"encoding":{"x":{"field":"x","type":"quantitative","scale":{"domain":[77.86,112.38],"nice":false,"zero":false},"axis":{"values":[80,85,90,95,100,105,110],"format":"d"}},"y":{"field":"y","type":"quantitative","scale":{"domain":[-0.0358,0.0358],"nice":false},"axis":{"values":[-0.025,0,0.025],"format":".3f"}}},
"layer":[
{"data":{"name":"g5"},"mark":{"type":"line","clip":true,"color":"#2ca02c"}},
{"data":{"name":"o5"},"mark":{"type":"line","clip":true,"color":"#ff7f0e"}},
{"data":{"name":"r5"},"mark":{"type":"line","clip":true,"color":"#d62728"}},
{"data":{"name":"b5"},"mark":{"type":"line","clip":true,"color":"#8c564b"}},
{"data":{"name":"p5"},"mark":{"type":"line","clip":true,"color":"#9467bd","strokeWidth":2.2}}]},
{"data":{"values":[{"t":"ObsNum 71611, Chassis 2, Averaged"}]},"mark":{"type":"text","align":"left","baseline":"alphabetic","fontSize":10,"font":"DejaVu Sans","color":"#000"},"encoding":{"x":{"datum":83,"type":"quantitative","scale":{"domain":[77.86,112.38],"nice":false,"zero":false},"axis":{"values":[80,85,90,95,100,105,110],"format":"d"}},"y":{"datum":0.02,"type":"quantitative","scale":{"domain":[-0.0358,0.0358],"nice":false},"axis":{"values":[-0.025,0,0.025],"format":".3f"}},"text":{"field":"t"}}}
]}
]
}
